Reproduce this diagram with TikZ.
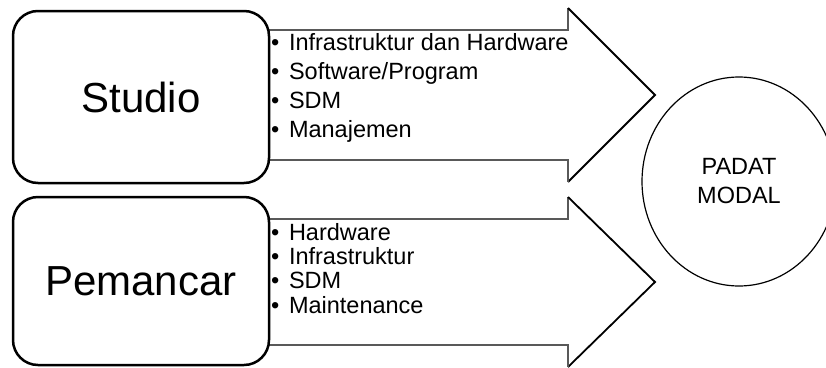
\documentclass[tikz,border=0pt]{standalone}
\usepackage{fontspec}
\setmainfont{Liberation Sans}
\usetikzlibrary{shapes,positioning,calc}

\begin{document}
\begin{tikzpicture}[x=1pt,y=-1pt,
  box/.style={draw=black,line width=2.5pt,rounded corners=25pt,fill=white,
    minimum width=256pt,minimum height=172pt,font=\fontsize{42}{48}\selectfont},
  shaft/.style={draw=black!65,line width=2pt},
  head/.style={draw=black,line width=1.8pt},
  item/.style={anchor=base west,inner sep=0pt,font=\fontsize{23.5}{28}\selectfont}]
\useasboundingbox (0,0) rectangle (826,367);
\clip (0,0) rectangle (826,367);

% big arrows
\fill[white] (200,30) -- (568,30) -- (568,8) -- (655,95) -- (568,182) -- (568,160) -- (200,160) -- cycle;
\draw[shaft] (200,30) -- (568,30) -- (568,8);
\draw[head] (568,8) -- (655,95) -- (568,182);
\draw[shaft] (568,182) -- (568,160) -- (200,160);

\fill[white] (200,219) -- (568,219) -- (568,197) -- (655,282) -- (568,367) -- (568,345) -- (200,345) -- cycle;
\draw[shaft] (200,219) -- (568,219) -- (568,197);
\draw[head] (568,197) -- (655,282) -- (568,367);
\draw[shaft] (568,367) -- (568,345) -- (200,345);

% boxes
\node[box](studio) at (141,97) {Studio};
\node[box,minimum height=168pt](pemancar) at (141,281) {Pemancar};

% lists
\node[item](s1) at (271,50) {\textbullet\hspace{9.6pt}Infrastruktur dan Hardware};
\node[item](s2) at (271,79) {\textbullet\hspace{9.6pt}Software/Program};
\node[item](s3) at (271,108) {\textbullet\hspace{9.6pt}SDM};
\node[item](s4) at (271,137) {\textbullet\hspace{9.6pt}Manajemen};

\node[item](p1) at (271,240) {\textbullet\hspace{9.6pt}Hardware};
\node[item](p2) at (271,264.3) {\textbullet\hspace{9.6pt}Infrastruktur};
\node[item](p3) at (271,288.7) {\textbullet\hspace{9.6pt}SDM};
\node[item](p4) at (271,313) {\textbullet\hspace{9.6pt}Maintenance};

% circle
\node[shape=ellipse,draw=black,line width=1.2pt,minimum width=194pt,minimum height=209pt,
  align=center,font=\fontsize{23.5}{29}\selectfont](padat) at (739,181.5) {PADAT\\MODAL};
\end{tikzpicture}
\end{document}
